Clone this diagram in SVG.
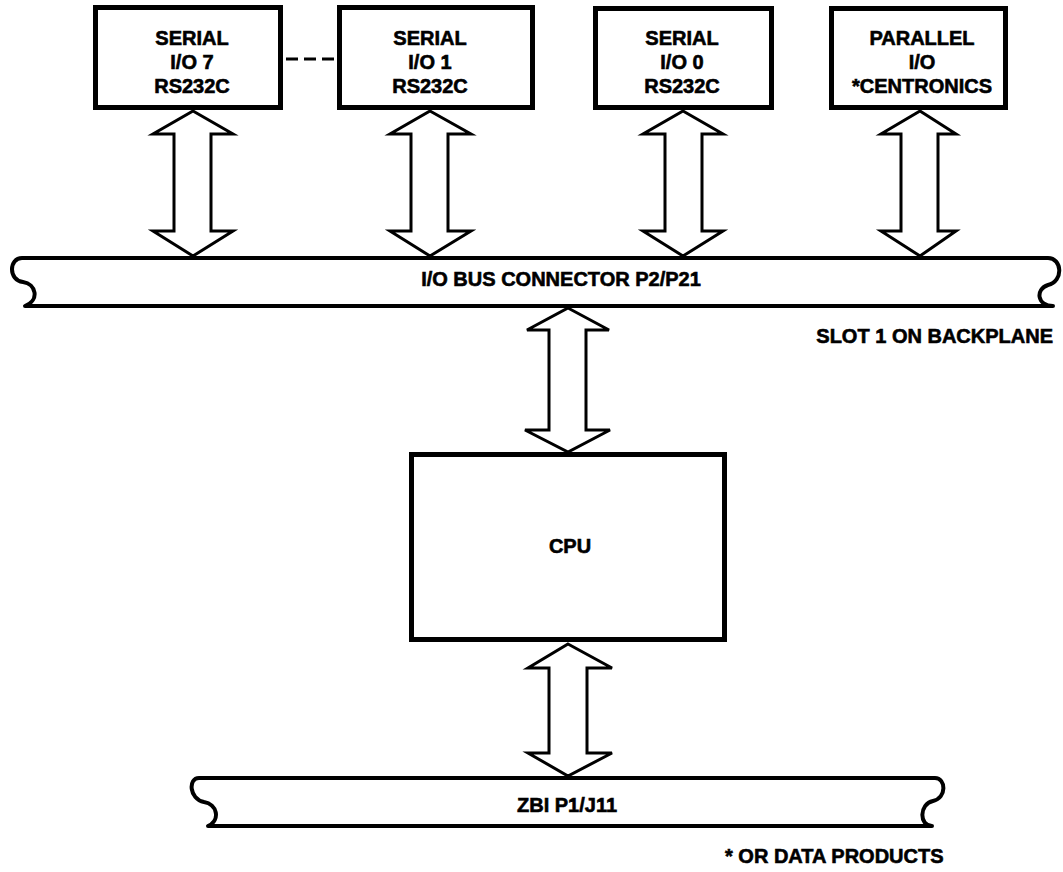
<svg xmlns="http://www.w3.org/2000/svg" width="1063" height="872" viewBox="0 0 1063 872">
<style>
.box{fill:#fff;stroke:#000;stroke-width:5}
.bus{fill:#fff;stroke:#000;stroke-width:4;stroke-linejoin:round}
.arr{fill:#fff;stroke:#000;stroke-width:3;stroke-linejoin:miter}
.t{font-family:"Liberation Sans",Arial,Helvetica,sans-serif;font-weight:bold;font-size:20px;fill:#000;stroke:#000;stroke-width:0.6;text-anchor:middle}
.dash{stroke:#000;stroke-width:3;stroke-dasharray:12 6;fill:none}
</style>
<rect width="1063" height="872" fill="#fff"/>
<g id="io-bus">
<path class="bus" d="M 22,258 L 1048,258 C 1062,258 1064,281 1048,285 C 1035,289 1037,306 1053,306 L 25,306 C 40,300 36,284 23,282 C 8,280 9,258 22,258 Z"/>
<text class="t" x="561" y="286">I/O BUS CONNECTOR P2/P21</text>
</g>
<g id="zbi-bus">
<path class="bus" d="M 199,778 L 935,778 C 946,778 947,798 933,801 C 919,804 919,826 932,826 L 208,826 C 221,820 217,804 204,802 C 189,799 188,778 199,778 Z"/>
<text class="t" x="567" y="812">ZBI P1/J11</text>
</g>
<g id="serial7">
<rect class="box" x="95.5" y="7.5" width="185" height="100"/>
<text class="t" x="192" y="45">SERIAL</text>
<text class="t" x="192" y="69">I/O 7</text>
<text class="t" x="192" y="93">RS232C</text>
</g>
<g id="serial1">
<rect class="box" x="339.5" y="7.5" width="193" height="100"/>
<text class="t" x="430" y="45">SERIAL</text>
<text class="t" x="430" y="69">I/O 1</text>
<text class="t" x="430" y="93">RS232C</text>
</g>
<g id="serial0">
<rect class="box" x="595.5" y="8.5" width="176" height="99"/>
<text class="t" x="682" y="45">SERIAL</text>
<text class="t" x="682" y="69">I/O 0</text>
<text class="t" x="682" y="93">RS232C</text>
</g>
<g id="parallel">
<rect class="box" x="831.5" y="8.5" width="174" height="99"/>
<text class="t" x="922" y="45">PARALLEL</text>
<text class="t" x="922" y="69">I/O</text>
<text class="t" x="922" y="93">*CENTRONICS</text>
</g>
<g id="cpu">
<rect class="box" x="411.5" y="454.5" width="313" height="185"/>
<text class="t" x="570" y="553">CPU</text>
</g>
<g id="connectors">
<line class="dash" x1="286" y1="59" x2="336" y2="59"/>
<path class="arr" d="M 193,111 L 233,134 L 211,134 L 211,231 L 233,231 L 193,256 L 153,231 L 174,231 L 174,134 L 153,134 Z"/>
<path class="arr" d="M 430,111 L 471,134 L 448,134 L 448,231 L 471,231 L 430,256 L 390,231 L 411,231 L 411,134 L 390,134 Z"/>
<path class="arr" d="M 683,111 L 723,134 L 702,134 L 702,231 L 723,231 L 683,256 L 643,231 L 665,231 L 665,134 L 643,134 Z"/>
<path class="arr" d="M 920,111 L 956,134 L 938,134 L 938,231 L 956,231 L 920,256 L 881,231 L 901,231 L 901,134 L 881,134 Z"/>
<path class="arr" d="M 568,308 L 609,330 L 586,330 L 586,430 L 610,430 L 568,452 L 525,430 L 549,430 L 549,330 L 527,330 Z"/>
<path class="arr" d="M 568,644 L 612,668 L 587,668 L 587,753 L 612,753 L 568,776 L 528,753 L 549,753 L 549,668 L 528,668 Z"/>
</g>
<g id="notes">
<text class="t" x="1053" y="343" style="text-anchor:end">SLOT 1 ON BACKPLANE</text>
<text class="t" x="725" y="863" style="text-anchor:start">* OR DATA PRODUCTS</text>
</g>
</svg>
